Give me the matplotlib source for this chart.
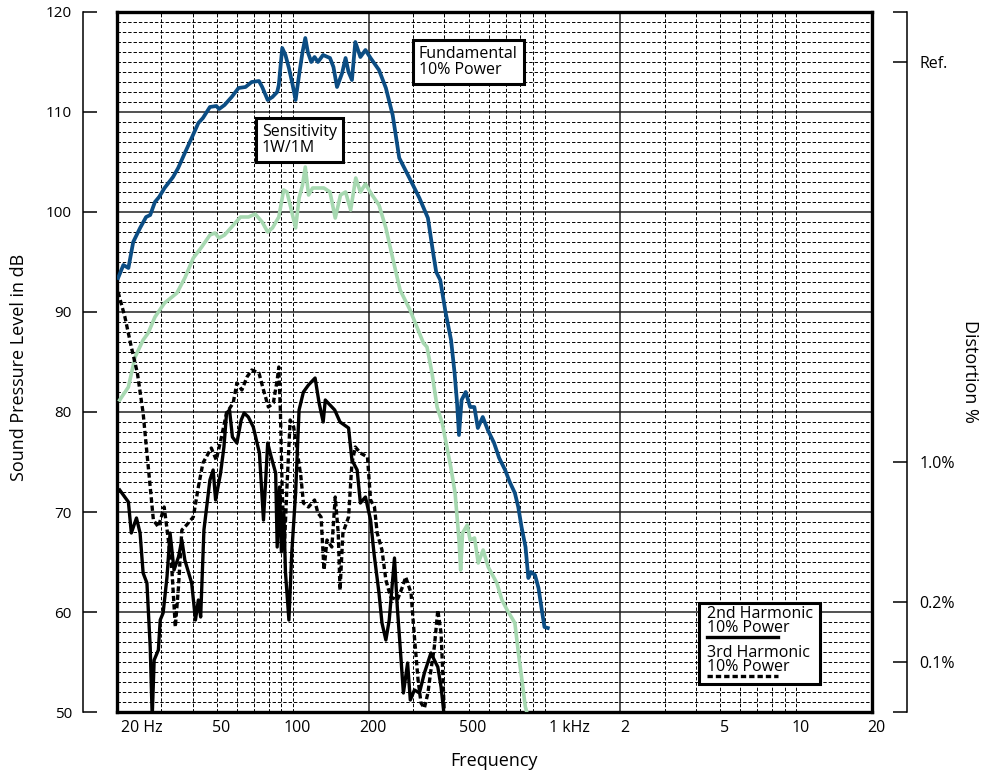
import matplotlib
matplotlib.use("Agg")
import matplotlib.pyplot as plt
import matplotlib.transforms as mtransforms
from matplotlib.patches import Rectangle

plt.rcParams['font.family'] = ['Open Sans', 'DejaVu Sans']

# fundamental, 10% power (blue)
fund_f = [20.2, 21.2, 22.2, 23.2, 24.7, 26.1, 27.1, 28.3, 29.4, 30.9, 33.4, 35.0, 37.2, 39.6,
          42.1, 43.9, 46.8, 49.6, 50.9, 53.5, 57.1, 60.8, 64.8, 68.6, 73.3, 75.5, 79.4, 82.9,
          86.6, 87.9, 90.7, 93.4, 96.4, 99.4, 102.5, 105.8, 109.2, 112, 114.6, 118.3, 121.9,
          125.7, 131.8, 140.4, 144.9, 149.7, 156.9, 161.9, 166.4, 171.6, 177.0, 185.4, 194.2,
          203.5, 219.8, 234.1, 249.1, 264.6, 290.4, 318.1, 343.9, 360.3, 371.0, 385, 404, 425,
          439, 449, 457, 468, 486, 506, 526, 543, 568, 595, 630, 660, 697, 727, 762, 786, 810,
          840, 862, 883, 916, 946, 975, 999, 1030]
fund_db = [93.4, 94.7, 94.4, 97.0, 98.4, 99.5, 99.7, 101.0, 101.5, 102.4, 103.5, 104.4, 105.9, 107.4,
           108.9, 109.4, 110.5, 110.6, 110.3, 110.7, 111.5, 112.4, 112.5, 113.0, 113.1, 112.5, 111.2, 111.5,
           112.0, 112.7, 116.4, 115.7, 114.4, 112.9, 111.2, 113.7, 116.0, 117.4, 116.0, 115.0, 115.5,
           115.0, 115.7, 115.4, 114.5, 112.5, 113.9, 115.4, 114.0, 113.2, 117.0, 115.5, 116.2,
           115.4, 114.2, 112.4, 109.7, 105.4, 103.4, 101.4, 99.4, 96.0, 94.0, 93.2, 90.0, 87.2,
           83.9, 80.9, 77.7, 81.2, 82.0, 80.5, 80.5, 78.4, 79.5, 78.2, 76.9, 75.4, 74.2, 73.0, 71.9, 70.5, 68.5,
           66.5, 63.4, 64.0, 63.7, 62.4, 60.2, 58.5, 58.4]

# sensitivity 1W/1M (light green)
sens_f = [20.5, 22.2, 23.6, 25.4, 26.6, 28.3, 30.9, 34.6, 37.2, 40.2, 43.4, 46.8, 49.0, 50.9, 53.5,
          57.1, 61.9, 66.6, 70.8, 75.5, 79.4, 82.9, 87.9, 91.9, 94.7, 97.5, 102.5, 105.8, 109.2, 112,
          115.4, 119.8, 125.7, 132.8, 140.4, 147.3, 154.6, 161.9, 169.6, 177.7, 185.4, 194.2, 206.3,
          219.8, 234.1, 249.1, 266.6, 292, 311, 330, 341, 357, 374, 392, 404, 424, 441, 457, 464,
          472, 493, 506, 527, 545, 570, 597, 646, 677, 710, 762, 788, 813, 839, 860]
sens_db = [81.2, 82.5, 85.5, 87.2, 87.9, 89.5, 90.9, 91.9, 93.4, 95.4, 96.5, 97.7, 97.9, 97.4, 97.7,
           98.5, 99.5, 99.5, 99.8, 99.0, 98.0, 98.4, 99.5, 102.2, 102.0, 100.7, 98.4, 101.4, 102.7, 104.5,
           101.7, 102.4, 102.4, 102.4, 102.0, 99.4, 101.7, 102.0, 100.2, 103.4, 102.0, 102.8, 101.7,
           100.7, 98.4, 95.4, 92.2, 90.2, 88.5, 86.9, 86.5, 83.9, 80.5, 78.9, 77.2, 74.5, 71.9, 67.2, 64.2,
           67.9, 68.7, 67.2, 67.4, 64.9, 66.2, 64.5, 62.9, 61.2, 60.2, 58.9, 55.8, 53.2, 50.5, 49.5]

# 2nd harmonic, 10% power (solid black)
h2_f = [20.5, 22.2, 22.8, 23.9, 24.7, 25.4, 26.3, 27.1, 27.6, 28.1, 29.2, 29.7, 30.5, 31.6, 32.5,
        33.7, 35.1, 36.2, 37.2, 39.6, 41.0, 42.1, 43.0, 44.3, 46.8, 48.2, 49.3, 51.6, 53.2, 54.5,
        56.0, 57.5, 59.9, 62.3, 64.0, 66.5, 69.6, 73.6, 76.4, 79.4, 82.0, 85.4, 86.6, 88.5, 90.0,
        92.0, 93.4, 96.4, 99.0, 102.5, 105.8, 110.1, 115.3, 122.5, 127.1, 131.9, 134.5, 140.4,
        146.6, 153.9, 166.4, 171.6, 180.0, 185.4, 194.2, 203.5, 209.9, 219.8, 225.9, 234.1, 241.4,
        246.5, 253.3, 259.9, 266.1, 274.8, 285.6, 292.7, 304.0, 318.1, 333.0, 353.6, 364.7, 376.5,
        387.9, 399.6]
h2_db = [72.2, 71.0, 67.9, 69.4, 67.9, 63.9, 62.9, 56.5, 49.5, 55.2, 56.2, 59.2, 59.9, 63.5, 67.9,
         64.2, 65.5, 67.2, 65.2, 62.9, 59.2, 61.2, 59.5, 68.2, 73.2, 74.2, 71.2, 73.9, 76.5, 79.9,
         80.2, 77.5, 76.9, 79.2, 79.9, 79.5, 78.5, 75.9, 69.2, 76.9, 75.5, 73.9, 66.5, 72.5, 66.0,
         70.0, 64.0, 59.2, 66.0, 71.9, 80.2, 82.0, 82.7, 83.4, 80.9, 79.0, 81.2, 80.7,
         80.2, 79.0, 78.4, 75.2, 74.2, 70.9, 71.5, 69.2, 65.9, 61.9, 58.9, 57.2, 59.2,
         61.9, 65.4, 60.5, 56.9, 51.9, 54.9, 51.2, 52.2, 51.9, 53.9, 55.9, 55.2, 54.5,
         52.5, 49.5]

# 3rd harmonic, 10% power (dotted black)
h3_f = [20.2, 21.5, 22.8, 24.1, 25.4, 26.3, 27.1, 27.9, 29.2, 30.8, 32.0, 33.1, 34.1, 35.1, 36.2,
        37.8, 40.2, 42.1, 43.9, 47.4, 49.6, 52.0, 54.5, 57.9, 59.9, 62.7, 65.7, 68.6, 73.3, 76.4,
        79.9, 83.6, 86.6, 87.9, 89.2, 90.7, 92.5, 94.5, 97.5, 100.7, 107.6, 110.1, 115.3, 121.9,
        125.7, 129.4, 132.9, 136.6, 142.8, 147.3, 151.4, 153.9, 158.0, 166.4, 171.6, 177.0, 185.4,
        197.8, 203.5, 210.9, 216.2, 225.9, 234.1, 244.6, 259.9, 272.4, 280.6, 294.7, 304.0, 314.3,
        322.9, 333.0, 343.9, 353.6, 364.7, 376.5, 387.9, 394, 400]
h3_db = [92.0, 89.5, 86.5, 83.9, 79.9, 75.9, 72.5, 69.2, 68.5, 70.5, 67.2, 63.9, 58.5, 62.5, 68.2,
         68.7, 69.5, 72.5, 74.9, 76.4, 75.2, 77.5, 79.9, 80.9, 82.9, 82.2, 83.5, 84.2, 83.9, 82.2,
         80.5, 80.9, 83.2, 84.5, 80.0, 72.0, 66.5, 72.0, 79.2, 78.5, 73.5, 70.9, 70.5, 71.2,
         69.9, 69.5, 64.2, 67.2, 66.5, 71.5, 67.9, 62.2, 67.9, 69.5, 74.9, 76.5, 75.9,
         75.5, 71.2, 70.5, 67.9, 66.2, 63.2, 61.5, 61.2, 62.5, 63.5, 61.9, 57.5, 53.2,
         50.9, 50.4, 51.9, 54.2, 56.5, 60.2, 57.9, 53.9, 49.5]

x_ticks = [20, 50, 100, 200, 500, 1000, 2000, 5000, 10000, 20000]
x_labels = ['20 Hz', '50', '100', '200', '500', '1 kHz', '2', '5', '10', '20']
db_ticks = [50, 60, 70, 80, 90, 100, 110, 120]
dist_ticks = [120, 115, 75, 61.02, 55, 50]
dist_labels = ['', 'Ref.', '1.0%', '0.2%', '0.1%', '']

blue = '#0b4d84'
green = '#a6d8b0'

fig = plt.figure(figsize=(9.85, 7.73), dpi=100)
ax = fig.add_axes([117/985, 1-712/773, 755/985, 700/773])
ax.set_xscale('log')
ax.set_xlim(20, 20000)
ax.set_ylim(50, 120)

# grid like the log paper: solid at decades 20/200/2k and every 10 dB
for db in range(51, 120):
    if db % 10:
        ax.axhline(db, color='black', lw=0.7, ls=(0, (3.5, 2)), zorder=1)
    else:
        ax.axhline(db, color='#222222', lw=1.1, zorder=1)
for k in [10, 100, 1000]:
    for n in range(3, 11):
        ax.axvline(n*k, color='black', lw=0.7, ls=(0, (3.5, 2)), zorder=1)
for f in [200, 2000]:
    ax.axvline(f, color='#222222', lw=1.1, zorder=1)

ax.plot(sens_f, sens_db, color=green, lw=2.6, zorder=3, solid_joinstyle='round')
ax.plot(fund_f, fund_db, color=blue, lw=2.7, zorder=4, solid_joinstyle='round')
ax.plot(h2_f, h2_db, color='black', lw=2.4, zorder=4)
ax.plot(h3_f, h3_db, color='black', lw=2.4, ls=(0, (1.6, 0.9)), zorder=4)

for s in ax.spines.values():
    s.set_linewidth(2.4)
ax.set_xticks(x_ticks)
ax.set_xticklabels(x_labels, fontsize=11.5)
ax.xaxis.set_minor_locator(matplotlib.ticker.NullLocator())
ax.tick_params(axis='x', length=0, pad=6)
ax.set_yticks([])
shift = mtransforms.ScaledTranslation(4/100, 0, fig.dpi_scale_trans)
for i, lab in enumerate(ax.get_xticklabels()):
    lab.set_transform(lab.get_transform() + shift)
    if x_labels[i] in ('20 Hz', '1 kHz'):
        lab.set_horizontalalignment('left')
ax.set_xlabel('Frequency', fontsize=13, labelpad=11)

# detached scales left and right
left = ax.secondary_yaxis(-34/755)
left.set_yticks(db_ticks)
left.tick_params(direction='in', length=10, width=1.1, pad=8, labelsize=11)
left.spines['left'].set_linewidth(1.1)

right = ax.secondary_yaxis(1 + 35/755)
right.set_yticks(dist_ticks)
right.set_yticklabels(dist_labels)
right.tick_params(direction='in', length=10, width=1.1, pad=9, labelsize=11.5)
right.spines['right'].set_linewidth(1.1)

fig.text(0.019, 0.525, 'Sound Pressure Level in dB', rotation=90, ha='center', va='center', fontsize=13)
fig.text(0.985, 0.52, 'Distortion %', rotation=270, ha='center', va='center', fontsize=13)

box = dict(boxstyle='square,pad=0.4', fc='white', ec='black', lw=2.2)
ax.text((419-117)/755, (712-62)/700, 'Fundamental\n10% Power', transform=ax.transAxes,
        ha='left', va='center', fontsize=11.5, linespacing=0.95, bbox=box, zorder=6)
ax.text((262-117)/755, (712-140)/700, 'Sensitivity\n1W/1M', transform=ax.transAxes,
        ha='left', va='center', fontsize=11.5, linespacing=0.95, bbox=box, zorder=6)

# legend box for the harmonics
ax.add_patch(Rectangle(((699-117)/755, 28/700), 121/755, 81/700, transform=ax.transAxes,
                       fc='white', ec='black', lw=2.2, zorder=6))
ax.text((707-117)/755, (712-606)/700, '2nd Harmonic\n10% Power', transform=ax.transAxes,
        ha='left', va='top', fontsize=11.5, linespacing=0.8, zorder=7)
ax.plot([(707-117)/755, (778-117)/755], [(712-637)/700]*2, transform=ax.transAxes,
        color='black', lw=2.4, zorder=7)
ax.text((707-117)/755, (712-645)/700, '3rd Harmonic\n10% Power', transform=ax.transAxes,
        ha='left', va='top', fontsize=11.5, linespacing=0.8, zorder=7)
ax.plot([(707-117)/755, (778-117)/755], [(712-676)/700]*2, transform=ax.transAxes,
        color='black', lw=2.4, ls=(0, (1.6, 0.9)), zorder=7)

fig.savefig('out.png', dpi=100)
